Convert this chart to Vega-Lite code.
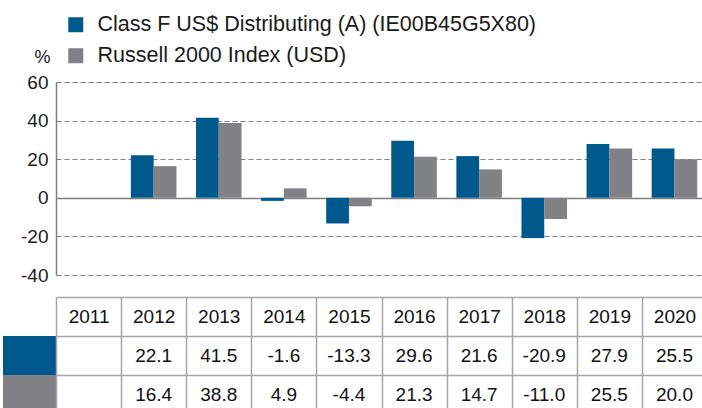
{
  "$schema": "https://vega.github.io/schema/vega-lite/v6.json",
  "padding": {"left": 3, "top": 14, "right": 0, "bottom": 0},
  "config": {
    "font": "Liberation Sans",
    "view": {"stroke": null},
    "locale": {"number": {"decimal": ".", "thousands": ",", "grouping": [3], "currency": ["$", ""], "minus": "-"}}
  },
  "datasets": {
    "returns": [
      {"year": "2012", "series": "Class F US$ Distributing (A) (IE00B45G5X80)", "value": 22.1},
      {"year": "2013", "series": "Class F US$ Distributing (A) (IE00B45G5X80)", "value": 41.5},
      {"year": "2014", "series": "Class F US$ Distributing (A) (IE00B45G5X80)", "value": -1.6},
      {"year": "2015", "series": "Class F US$ Distributing (A) (IE00B45G5X80)", "value": -13.3},
      {"year": "2016", "series": "Class F US$ Distributing (A) (IE00B45G5X80)", "value": 29.6},
      {"year": "2017", "series": "Class F US$ Distributing (A) (IE00B45G5X80)", "value": 21.6},
      {"year": "2018", "series": "Class F US$ Distributing (A) (IE00B45G5X80)", "value": -20.9},
      {"year": "2019", "series": "Class F US$ Distributing (A) (IE00B45G5X80)", "value": 27.9},
      {"year": "2020", "series": "Class F US$ Distributing (A) (IE00B45G5X80)", "value": 25.5},
      {"year": "2012", "series": "Russell 2000 Index (USD)", "value": 16.4},
      {"year": "2013", "series": "Russell 2000 Index (USD)", "value": 38.8},
      {"year": "2014", "series": "Russell 2000 Index (USD)", "value": 4.9},
      {"year": "2015", "series": "Russell 2000 Index (USD)", "value": -4.4},
      {"year": "2016", "series": "Russell 2000 Index (USD)", "value": 21.3},
      {"year": "2017", "series": "Russell 2000 Index (USD)", "value": 14.7},
      {"year": "2018", "series": "Russell 2000 Index (USD)", "value": -11.0},
      {"year": "2019", "series": "Russell 2000 Index (USD)", "value": 25.5},
      {"year": "2020", "series": "Russell 2000 Index (USD)", "value": 20.0}
    ]
  },
  "columns": 2,
  "spacing": {"row": 22, "column": 0},
  "bounds": "flush",
  "concat": [
    {
      "width": 53,
      "height": 193,
      "data": {"values": [{}]},
      "mark": {"type": "text", "text": ""},
      "encoding": {}
    },
    {
      "width": 651,
      "height": 193,
      "data": {"name": "returns"},
      "mark": {"type": "bar"},
      "encoding": {
        "x": {
          "field": "year", "type": "ordinal",
          "scale": {"domain": ["2011", "2012", "2013", "2014", "2015", "2016", "2017", "2018", "2019", "2020"], "paddingInner": 0.3, "paddingOuter": 0.15},
          "axis": null
        },
        "xOffset": {
          "field": "series", "type": "nominal",
          "scale": {"domain": ["Class F US$ Distributing (A) (IE00B45G5X80)", "Russell 2000 Index (USD)"], "paddingInner": 0, "paddingOuter": 0}
        },
        "y": {
          "field": "value", "type": "quantitative",
          "scale": {"domain": [-40, 60], "nice": false, "zero": false},
          "axis": {
            "values": [-40, -20, 0, 20, 40, 60],
            "labelOverlap": false,
            "grid": true,
            "gridDash": {"condition": {"test": "datum.value === 0", "value": []}, "value": [5, 3]},
            "gridWidth": {"condition": {"test": "datum.value === 0", "value": 1.5}, "value": 1.2},
            "gridColor": "#7f7f7f",
            "domain": true, "domainColor": "#7f7f7f", "domainWidth": 1.5,
            "ticks": false, "tickSize": 0, "labelPadding": 8,
            "labelFontSize": 19, "labelColor": "#1a1a1a",
            "title": "%", "titleAngle": 0, "titleX": -14, "titleY": -25,
            "titleAlign": "center", "titleBaseline": "middle",
            "titleFontSize": 18, "titleFontWeight": "normal", "titleColor": "#1a1a1a"
          }
        },
        "color": {
          "field": "series", "type": "nominal",
          "scale": {"domain": ["Class F US$ Distributing (A) (IE00B45G5X80)", "Russell 2000 Index (USD)"], "range": ["#00598c", "#808285"]},
          "legend": {
            "orient": "none", "legendX": 62, "legendY": -68, "title": null,
            "direction": "vertical", "symbolType": "square", "symbolSize": 225,
            "symbolStrokeWidth": 0, "labelFontSize": 21.5, "labelColor": "#1a1a1a",
            "labelOffset": 11, "rowPadding": 8, "padding": 0, "labelLimit": 700
          }
        }
      }
    },
    {
      "width": 53,
      "height": 117,
      "data": {"name": "returns"},
      "transform": [{"aggregate": [{"op": "count", "as": "n"}], "groupby": ["series"]}],
      "mark": {"type": "rect"},
      "encoding": {
        "y": {
          "field": "series", "type": "nominal",
          "scale": {"domain": ["header", "Class F US$ Distributing (A) (IE00B45G5X80)", "Russell 2000 Index (USD)"], "paddingInner": 0, "paddingOuter": 0},
          "axis": null
        },
        "color": {
          "field": "series", "type": "nominal",
          "scale": {"domain": ["Class F US$ Distributing (A) (IE00B45G5X80)", "Russell 2000 Index (USD)"], "range": ["#00598c", "#808285"]},
          "legend": null
        }
      }
    },
    {
      "width": 651,
      "height": 117,
      "data": {"name": "returns"},
      "mark": {"type": "text", "fontSize": 19, "color": "#111111"},
      "encoding": {
        "x": {
          "field": "year", "type": "ordinal",
          "scale": {"domain": ["2011", "2012", "2013", "2014", "2015", "2016", "2017", "2018", "2019", "2020"], "paddingInner": 0, "paddingOuter": 0},
          "axis": {
            "orient": "top", "grid": true, "tickBand": "extent", "gridColor": "#a6a6a6", "gridWidth": 1.5,
            "domain": false, "ticks": false, "tickSize": 0, "labelPadding": -19.5, "labelBaseline": "middle",
            "labelFontSize": 19, "labelColor": "#111111", "labelAngle": 0, "title": null
          }
        },
        "y": {
          "field": "series", "type": "nominal",
          "scale": {"domain": ["header", "Class F US$ Distributing (A) (IE00B45G5X80)", "Russell 2000 Index (USD)"], "paddingInner": 0, "paddingOuter": 0},
          "axis": {"grid": true, "tickBand": "extent", "gridColor": "#a6a6a6", "gridWidth": 1.5, "domain": false, "ticks": false, "labels": false, "title": null}
        },
        "text": {"field": "value", "type": "quantitative", "format": ".1f"}
      }
    }
  ]
}
